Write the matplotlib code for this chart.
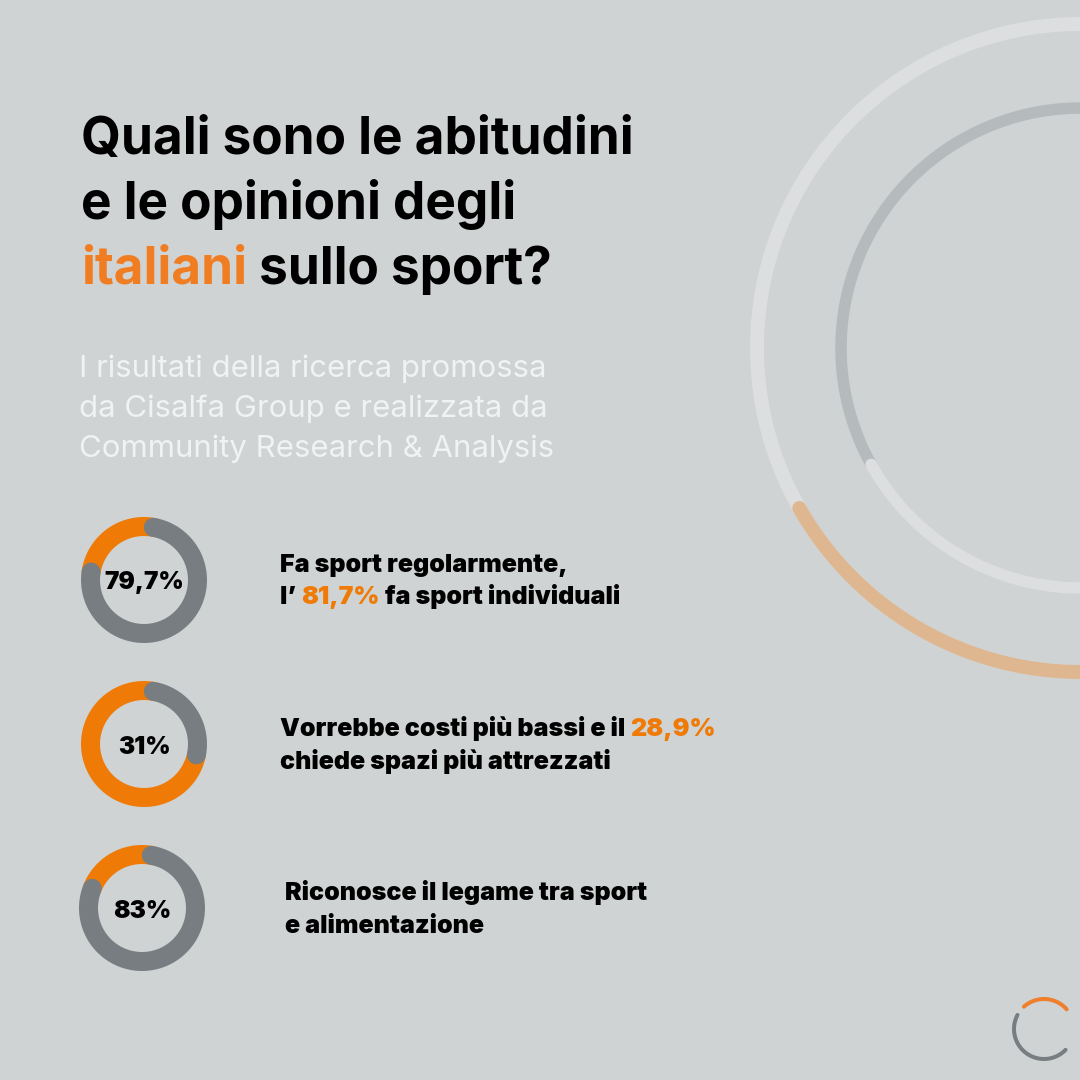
#!/usr/bin/env python3
# -*- coding: utf-8 -*-
import numpy as np
import matplotlib
matplotlib.use("Agg")
import matplotlib.pyplot as plt

BG = "#cfd3d4"
ORANGE = "#ef7a05"
GREY = "#787d81"

# donuts
donut_labels = ["79,7%", "31%", "83%"]
donut_grey_end = [278.6, 101.7, 291.6]   # where the grey arc stops, degrees clockwise from top
GREY_START = 10

title_lines = [[("Quali sono le abitudini", "black")],
               [("e le opinioni degli", "black")],
               [("italiani", "#f07d22"), (" sullo sport?", "black")]]
subtitle_lines = ["I risultati della ricerca promossa",
                  "da Cisalfa Group e realizzata da",
                  "Community Research & Analysis"]
item_lines = [[[("Fa sport regolarmente,", "black")],
               [("l’ ", "black"), ("81,7%", ORANGE), (" fa sport individuali", "black")]],
              [[("Vorrebbe costi più bassi e il ", "black"), ("28,9%", ORANGE)],
               [("chiede spazi più attrezzati", "black")]],
              [[("Riconosce il legame tra sport", "black")],
               [("e alimentazione", "black")]]]

# big background rings: colour, start, end (degrees clockwise from top)
outer_ring = [("#dcdee0", 0, 360), ("#deb68f", 180, 240.4)]
inner_ring = [("#b5babd", 241, 360), ("#dcdee0", 180, 241)]

fig = plt.figure(figsize=(10.8, 10.8), dpi=100, facecolor=BG)
ax = fig.add_axes([0, 0, 1, 1])
ax.set_xlim(0, 1080); ax.set_ylim(1080, 0); ax.axis("off")


def arc(cx, cy, r, start, end, color, width, z=2):
    t = np.radians(np.linspace(start, end, 300))
    ax.plot(cx + r*np.sin(t), cy - r*np.cos(t), color=color, lw=width*0.72,
            solid_capstyle="round", zorder=z)


def runs(x, y, parts, **kw):
    # testo a più colori sulla stessa riga
    r = fig.canvas.get_renderer()
    for s, c in parts:
        t = ax.text(x, y, s.replace(" ", "\u00a0"), color=c, va="baseline", ha="left", **kw)
        x += t.get_window_extent(r).width


for c, a, b in outer_ring:
    arc(1081, 348, 324, a, b, c, 14)
for c, a, b in inner_ring:
    arc(1081, 348, 240, a, b, c, 11.5)

centers = [(144, 580), (144, 744), (142, 908)]
for (cx, cy), lab, end in zip(centers, donut_labels, donut_grey_end):
    arc(cx, cy, 53.5, end, 360 + GREY_START, ORANGE, 19)
    arc(cx, cy, 53.5, GREY_START, end, GREY, 19, z=3)
    ax.text(cx, cy + 9.5, lab, ha="center", va="baseline", fontsize=17.5,
            fontfamily="Inter", fontweight="black", color="black", zorder=4)

# logo
arc(1044, 1029, 30, 318, 409, "#ef7f2a", 4)
arc(1044, 1029, 30, 134, 298, GREY, 4)

for y, parts in zip([154, 219, 284], title_lines):
    runs(81, y, parts, fontsize=37, fontfamily="Inter", fontweight="bold")

for y, s in zip([377, 417, 457], subtitle_lines):
    ax.text(79, y, s, color="#f1f2f2", fontsize=22.4, fontfamily="Inter", fontweight="normal")

item_x = [280, 280, 285]
item_y = [(572, 604), (736, 769), (900, 933)]
for x, ys, lines in zip(item_x, item_y, item_lines):
    for y, parts in zip(ys, lines):
        runs(x, y, parts, fontsize=18, fontfamily="Inter", fontweight="black")

fig.savefig("out.png", dpi=100, facecolor=BG)
